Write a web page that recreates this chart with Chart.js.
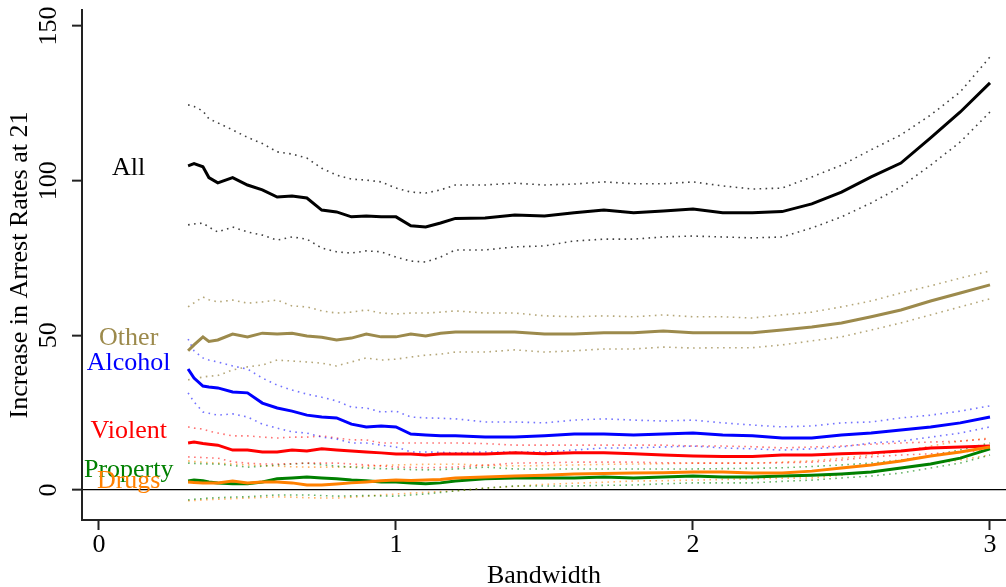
<!DOCTYPE html>
<html>
<head>
<meta charset="utf-8">
<script src="https://cdn.jsdelivr.net/npm/chart.js@4/dist/chart.umd.min.js"></script>
<style>
  html, body { margin: 0; padding: 0; background: #fff; }
  #wrap { width: 1006px; height: 587px; position: relative; }
</style>
</head>
<body>
<div id="wrap"><canvas id="chart"></canvas></div>
<script>
const FONT = '"Liberation Serif", "Times New Roman", serif';

// bandwidth grid the estimates are read at
const bandwidth = [0.30, 0.32, 0.35, 0.37, 0.40, 0.45, 0.50, 0.55, 0.60, 0.65, 0.70, 0.75, 0.80, 0.85, 0.90, 0.95, 1.00, 1.05, 1.10, 1.15, 1.20, 1.30, 1.40, 1.50, 1.60, 1.70, 1.80, 1.90, 2.00, 2.10, 2.20, 2.30, 2.40, 2.50, 2.60, 2.70, 2.80, 2.90, 3.00];

const allMid = [104.8, 105.5, 104.5, 101, 99.3, 101, 98.6, 97, 94.7, 95, 94.4, 90.5, 89.9, 88.3, 88.6, 88.3, 88.3, 85.4, 85, 86.3, 87.8, 87.9, 88.9, 88.6, 89.6, 90.5, 89.6, 90.2, 90.8, 89.6, 89.6, 90, 92.5, 96.3, 101.2, 105.7, 113.8, 122.2, 131.6];
const allHi = [124.5, 124, 122.5, 120, 118.7, 116.4, 114, 112, 109.3, 108.6, 107.3, 104, 101.8, 100.5, 100.2, 99.6, 97.6, 96.3, 96, 97, 98.6, 98.6, 99.2, 98.6, 98.9, 99.6, 99, 99, 99.6, 98.3, 97.3, 97.6, 101.2, 105, 110, 114.8, 121.2, 128.7, 140];
const allLo = [85.7, 86, 86.3, 85, 83.4, 85, 83.4, 82.4, 80.8, 81.8, 81.1, 78.2, 77, 76.6, 77.3, 77, 75.3, 74, 73.7, 75.3, 77.6, 77.6, 78.6, 78.9, 80.5, 81.1, 81.1, 81.8, 82.1, 81.8, 81.5, 81.8, 84.7, 88.3, 92.8, 98, 105, 112.5, 122.2];

const otherMid = [45, 46.9, 49.5, 48, 48.5, 50.4, 49.5, 50.7, 50.4, 50.7, 49.8, 49.4, 48.5, 49.1, 50.4, 49.5, 49.5, 50.4, 49.8, 50.7, 51.1, 51.1, 51.1, 50.4, 50.4, 50.8, 50.8, 51.4, 50.8, 50.8, 50.8, 51.7, 52.7, 54, 56, 58.2, 61.1, 63.7, 66.3];
const otherHi = [59.2, 60.5, 62.4, 61.5, 60.8, 61.4, 60.4, 60.8, 61.4, 59.5, 59.2, 57.9, 57.2, 57.5, 58.2, 57.2, 56.9, 57.2, 57.2, 57.5, 57.9, 57.2, 57.2, 56.3, 56, 56.3, 56, 56.6, 56, 56, 55.6, 56.6, 57.5, 59.2, 61.1, 63.7, 66, 68.5, 70.8];
const otherLo = [35.6, 36, 36.5, 36.8, 37, 38.8, 39.8, 40.4, 42, 41.7, 41.4, 41, 40.1, 41.4, 42.7, 42, 42.3, 43, 43.6, 43.9, 44.6, 44.6, 45.3, 44.6, 45, 45.6, 45.6, 46.2, 45.9, 46, 46, 46.9, 48.2, 49.5, 51.7, 54, 56.6, 59.2, 61.8];

const alcoholMid = [39.1, 36.2, 33.6, 33.3, 33, 31.7, 31.4, 28.1, 26.5, 25.5, 24.2, 23.6, 23.3, 21.3, 20.4, 20.7, 20.4, 18.1, 17.8, 17.5, 17.5, 17.1, 17.1, 17.5, 18.1, 18.1, 17.8, 18.1, 18.4, 17.8, 17.5, 16.8, 16.8, 17.8, 18.4, 19.4, 20.4, 21.7, 23.6];
const alcoholHi = [48.8, 45, 42.7, 42, 41.4, 40.1, 39.1, 36.2, 33.9, 32.3, 31, 30, 28.8, 26.8, 26.5, 25.2, 25.5, 23.6, 23.3, 23.2, 23, 22, 22, 21.7, 22.6, 23, 22.6, 22.3, 22.6, 21.7, 21, 20.4, 20.7, 21.7, 22, 23.3, 24.2, 25.5, 27.2];
const alcoholLo = [31.4, 28.5, 25.2, 24.8, 24.2, 24.6, 23.6, 21.3, 20, 18.8, 18.4, 17.1, 16.5, 15.2, 15.2, 14.5, 13.9, 12.3, 12.3, 12.2, 12, 12.3, 12.3, 12.3, 12.9, 13.6, 13.6, 13.9, 14.2, 13.6, 13.3, 12.9, 13.3, 13.9, 15.2, 15.8, 17.1, 18.4, 20.4];

const violentMid = [15.2, 15.5, 15, 14.8, 14.5, 12.9, 12.9, 12.3, 12.3, 12.9, 12.6, 13.3, 12.9, 12.6, 12.3, 12, 11.6, 11.6, 11.3, 11.6, 11.6, 11.6, 12, 11.7, 12, 12, 11.7, 11.3, 11, 10.8, 10.8, 11.3, 11.3, 11.7, 12, 12.6, 13.6, 13.9, 14.2];
const violentHi = [20.4, 20, 19.7, 19, 18.4, 17.5, 17.5, 17.1, 16.8, 17.1, 17.1, 17.5, 16.8, 16.2, 16.2, 15.2, 15.2, 15.2, 15.2, 15.2, 15.2, 15, 14.5, 14.5, 14.5, 14.5, 14.5, 14.5, 14.2, 14.2, 14, 13.6, 13.9, 14.2, 14.8, 15.2, 15.5, 15.8, 16.5];
const violentLo = [10.7, 10.6, 10.5, 10.4, 10.3, 9.1, 8.7, 8.4, 8.4, 8.5, 8.7, 8.7, 8.7, 8.4, 8.1, 7.8, 7.4, 7.3, 7.2, 7.3, 7.4, 8, 8.7, 8.8, 9, 9, 9, 8.8, 8.7, 8.7, 8.7, 8.8, 9, 9.7, 10.7, 11.3, 11.7, 12.3, 12.9];

const propertyMid = [2.9, 3.2, 3, 2.6, 2.3, 2, 2, 2.6, 3.6, 3.9, 4.2, 3.9, 3.6, 3.2, 3, 2.6, 2.6, 2.3, 2, 2.3, 2.9, 3.6, 3.9, 3.9, 3.9, 4.2, 3.9, 4.2, 4.5, 4.2, 4.2, 4.5, 4.8, 5.2, 5.8, 7.1, 8.4, 10.3, 13.3];
const propertyHi = [8.7, 8.6, 8.5, 8.4, 8.4, 7.9, 7.4, 7.7, 8.1, 8.4, 8.7, 8.2, 7.7, 7.4, 7.1, 6.9, 6.8, 6.6, 6.5, 6.6, 6.8, 7.4, 6.8, 6.8, 6.8, 6.8, 6.8, 6.8, 6.8, 6.9, 7, 7.2, 7.6, 8.1, 8.7, 9.7, 11, 13, 15.2];
const propertyLo = [-3.2, -3, -2.8, -2.6, -2.5, -2.3, -2.2, -1.9, -1.6, -1.6, -1.6, -1.8, -2, -1.9, -1.8, -1.9, -2, -1.6, -1.3, -0.8, -0.3, 0.6, 1.3, 1.3, 1.3, 1.5, 1.6, 2, 2.3, 2.3, 2.3, 2.8, 3.2, 3.9, 4.5, 5.5, 7.1, 8.7, 11.3];

const drugsMid = [2.6, 2.4, 2.3, 2.3, 2.3, 2.9, 2.3, 2.6, 2.6, 2.3, 1.6, 1.6, 1.9, 2.3, 2.6, 3, 3.2, 3.1, 3.2, 3.4, 3.9, 4.2, 4.5, 4.8, 5.2, 5.3, 5.5, 5.6, 5.8, 5.8, 5.5, 5.5, 6.1, 7.1, 8.1, 9.4, 11, 12.3, 13.9];
const drugsHi = [9.4, 9.2, 9, 8.8, 8.7, 8.4, 8.1, 7.9, 7.7, 7.5, 7.4, 7.4, 7.4, 7.5, 7.7, 7.9, 8.1, 8.2, 8.3, 8.3, 8.4, 8, 7.8, 7.9, 8.1, 8.3, 8.4, 8.5, 8.7, 8.7, 8.7, 9, 9.4, 10.3, 11.3, 12.6, 14.2, 15.8, 16.8];
const drugsLo = [-3.5, -3.4, -3.2, -3.1, -3, -2.8, -2.6, -2.4, -2.2, -2.3, -2.5, -2.6, -2.6, -2.3, -2, -1.6, -1.3, -1, -0.8, -0.5, -0.3, 0.6, 1.2, 1.8, 2.2, 2.5, 2.9, 3, 3.2, 3.4, 3.6, 3.8, 3.9, 4.8, 5.8, 7.1, 8.4, 9.7, 11.3];

const xTicks = [0, 1, 2, 3];
const yTicks = [0, 50, 100, 150];

// series names, their colours and where the name is written (data units)
const seriesNames = ['All', 'Other', 'Alcohol', 'Violent', 'Property', 'Drugs'];
const seriesColors = ['#000000', '#9c8a4c', '#0000ff', '#ff0000', '#008000', '#ff8000'];
const bandColors = ['rgba(0,0,0,0.75)', 'rgba(156,138,76,0.75)', 'rgba(0,0,255,0.55)', 'rgba(255,0,0,0.55)', 'rgba(0,128,0,0.6)', 'rgba(255,128,0,0.6)'];
const labelX = 0.1;
const labelY = [101.8, 46.9, 38.8, 16.8, 4.2, 0.6];

const mids = [allMid, otherMid, alcoholMid, violentMid, propertyMid, drugsMid];
const his = [allHi, otherHi, alcoholHi, violentHi, propertyHi, drugsHi];
const los = [allLo, otherLo, alcoholLo, violentLo, propertyLo, drugsLo];

function points(values) {
  return bandwidth.map((x, i) => ({x, y: values[i]}));
}

const datasets = [];
seriesNames.forEach((name, i) => {
  datasets.push({
    label: name,
    data: points(mids[i]),
    borderColor: seriesColors[i],
    borderWidth: 3,
    pointRadius: 0,
    order: 10 - i
  });
});
seriesNames.forEach((name, i) => {
  [his[i], los[i]].forEach(band => {
    datasets.push({
      label: name + ' CI',
      data: points(band),
      borderColor: bandColors[i],
      borderWidth: 1.6,
      borderDash: [1.6, 4.4],
      pointRadius: 0,
      order: 20
    });
  });
});

const seriesLabels = {
  id: 'seriesLabels',
  afterDatasetsDraw(chart) {
    const {ctx, scales} = chart;
    ctx.save();
    ctx.font = '26px ' + FONT;
    ctx.textAlign = 'center';
    ctx.textBaseline = 'alphabetic';
    seriesNames.forEach((name, i) => {
      ctx.fillStyle = seriesColors[i];
      ctx.fillText(name, scales.x.getPixelForValue(labelX), scales.y.getPixelForValue(labelY[i]));
    });
    ctx.restore();
  }
};

new Chart(document.getElementById('chart'), {
  type: 'line',
  data: { datasets },
  plugins: [seriesLabels],
  options: {
    responsive: true,
    maintainAspectRatio: false,
    animation: false,
    layout: { padding: { top: 10, right: 0, left: 0, bottom: 0 } },
    plugins: { legend: { display: false }, tooltip: { enabled: false } },
    scales: {
      x: {
        type: 'linear',
        min: -0.0572,
        max: 3.0539,
        afterBuildTicks: s => { s.ticks = xTicks.map(v => ({value: v})); },
        afterFit: s => { s.height = 67; s.paddingLeft = 0; s.paddingRight = 0; },
        ticks: { color: '#000', font: { family: FONT, size: 26 }, padding: 0, autoSkip: false, maxRotation: 0 },
        grid: { drawOnChartArea: false, tickLength: 10, tickWidth: 2, tickColor: '#222' },
        border: { color: '#222', width: 2 },
        title: {
          display: true, text: 'Bandwidth', color: '#000',
          font: { family: FONT, size: 26 }, padding: { top: 0, bottom: -5 }
        }
      },
      y: {
        type: 'linear',
        min: -9.70,
        max: 155.17,
        afterBuildTicks: s => { s.ticks = yTicks.map(v => ({value: v})); },
        afterFit: s => { s.width = 82; s.paddingTop = 0; s.paddingBottom = 0; },
        ticks: {
          color: '#000', font: { family: FONT, size: 26 }, padding: 3,
          minRotation: 90, maxRotation: 90, crossAlign: 'center', autoSkip: false
        },
        grid: {
          drawOnChartArea: true,
          color: c => (c.tick && c.tick.value === 0) ? '#000' : 'rgba(0,0,0,0)',
          lineWidth: 1.3,
          tickLength: 10, tickWidth: 2, tickColor: '#222'
        },
        border: { color: '#222', width: 2 },
        title: {
          display: true, text: 'Increase in Arrest Rates at 21', color: '#000',
          font: { family: FONT, size: 26 }, padding: { top: 5, bottom: 0 }
        }
      }
    }
  }
});
</script>
</body>
</html>
